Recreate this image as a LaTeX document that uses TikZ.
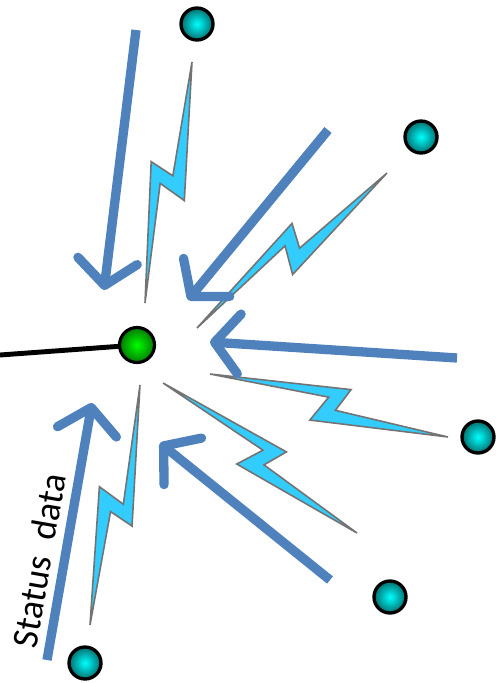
\documentclass[tikz,border=0pt]{standalone}
\usepackage{fontspec}
\setmainfont{Carlito}
\usetikzlibrary{arrows.meta, calc}
\definecolor{arrowblue}{RGB}{79, 129, 189}
\definecolor{boltcyan}{RGB}{51, 204, 255}
\definecolor{boltgray}{RGB}{115, 115, 115}

\newcommand{\bolt}[2]{%
  \filldraw[bolt] (#1)
    -- ($(#1)!0.56!(#2)!0.38cm!90:(#2)$)
    -- ($(#1)!0.51!(#2)!0.16cm!-90:(#2)$)
    -- (#2)
    -- ($(#1)!0.43!(#2)!0.42cm!-90:(#2)$)
    -- ($(#1)!0.47!(#2)!0.06cm!90:(#2)$)
    -- cycle;}

\begin{document}
\begin{tikzpicture}[x=0.02cm, y=-0.02cm,
        hub/.style={circle, draw=black, line width=1.8pt, minimum size=0.7cm, inner sep=0pt,
          inner color={rgb,255:red,0;green,255;blue,0}, outer color={rgb,255:red,0;green,120;blue,0}},
        sensor/.style={circle, draw=black, line width=1.9pt, minimum size=0.64cm, inner sep=0pt,
          inner color={rgb,255:red,0;green,255;blue,255}, outer color={rgb,255:red,0;green,110;blue,110}},
        arrow/.style={line width=5.3pt, arrowblue, -{Straight Barb[length=14pt, width=34pt, round]}},
        bolt/.style={fill=boltcyan, draw=boltgray, line width=0.9pt, line join=miter},
        link/.style={line width=2.8pt, black}
      ]
        \useasboundingbox (0,0) rectangle (499,683);
        \coordinate (edge) at (0,355);
        \coordinate (a1s) at (136,30);  \coordinate (a1e) at (104,290);
        \coordinate (a2s) at (328,130); \coordinate (a2e) at (188,300);
        \coordinate (a3s) at (457,358); \coordinate (a3e) at (210,342);
        \coordinate (a4s) at (330,580); \coordinate (a4e) at (160,443);
        \coordinate (a5s) at (47,660);  \coordinate (a5e) at (92,403);
        \coordinate (b1s) at (192,62);  \coordinate (b1e) at (145,303);
        \coordinate (b2s) at (387,173); \coordinate (b2e) at (197,328);
        \coordinate (b3s) at (448,437); \coordinate (b3e) at (210,374);
        \coordinate (b4s) at (357,533); \coordinate (b4e) at (163,383);
        \coordinate (b5s) at (90,625);  \coordinate (b5e) at (140,385);
        \node[hub] (hub) at (137,345) {};
        \node[sensor] (s1) at (197,24) {};
        \node[sensor] (s2) at (421,137) {};
        \node[sensor] (s3) at (478,437) {};
        \node[sensor] (s4) at (390,597) {};
        \node[sensor] (s5) at (85,663) {};
        \draw[link] (edge) -- (hub);
        \bolt{b1s}{b1e}
        \bolt{b2s}{b2e}
        \bolt{b3s}{b3e}
        \bolt{b4s}{b4e}
        \bolt{b5s}{b5e}
        \draw[arrow] (a1s) -- (a1e);
        \draw[arrow] (a2s) -- (a2e);
        \draw[arrow] (a3s) -- (a3e);
        \draw[arrow] (a4s) -- (a4e);
        \draw[arrow] (a5s) -- node[pos=0.37, sloped, above=1pt, text=black,
          font=\fontsize{21}{24}\selectfont] {Status\ \ data} (a5e);
      \end{tikzpicture}
\end{document}
